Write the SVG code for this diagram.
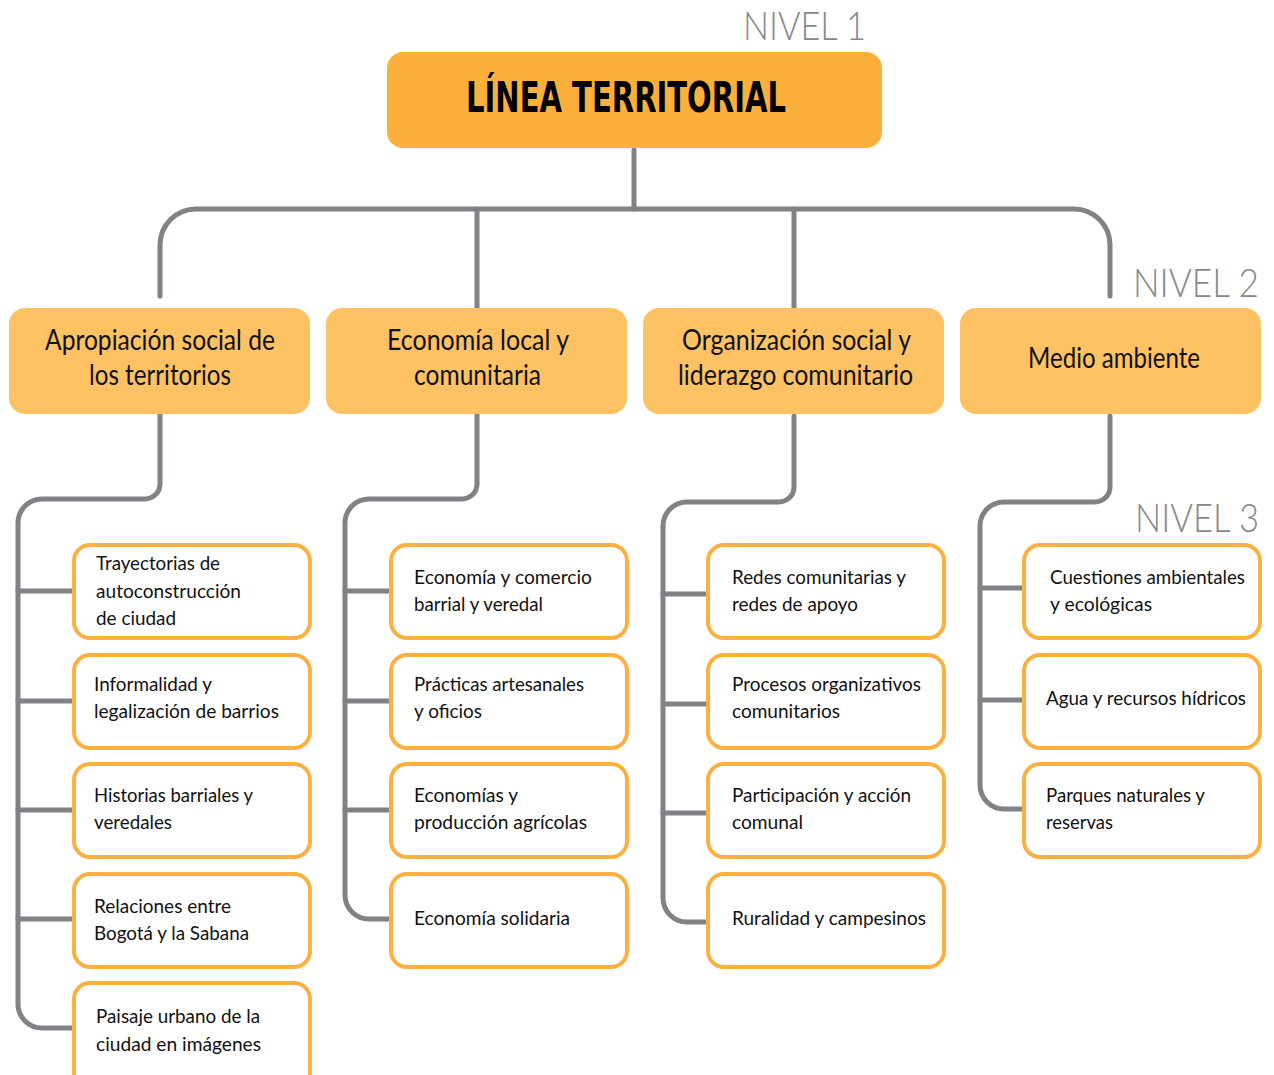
<svg xmlns="http://www.w3.org/2000/svg" width="1274" height="1075" viewBox="0 0 1274 1075">
<style>
.bg{fill:#ffffff}
.l1{fill:#FBB03B}
.l2{fill:#FDC263}
.l3{fill:#ffffff;stroke:#FBB040;stroke-width:4}
.c{fill:none;stroke:#808285;stroke-width:5;stroke-linecap:round}
.t1{font-family:"Liberation Sans Narrow","DejaVu Sans Condensed","Roboto","Liberation Sans",sans-serif;font-weight:bold;font-size:42px;fill:#000}
.t2{font-family:"Lato","Open Sans","Liberation Sans",sans-serif;font-size:28px;fill:#111}
.t3{font-family:"Lato","Open Sans","Liberation Sans",sans-serif;font-size:20px;fill:#111}
.nv{font-family:"Lato","Open Sans","Liberation Sans",sans-serif;font-weight:300;font-size:40px;fill:#86888A}
</style>
<rect class="bg" x="0" y="0" width="1274" height="1075"/>

<g id="connectors">
<path class="c" d="M634 150 V209"/>
<path class="c" d="M160 296 V245 A36 36 0 0 1 196 209 H1074 A36 36 0 0 1 1110 245 V296"/>
<path class="c" d="M477 209 V308"/>
<path class="c" d="M794 209 V308"/>
<path class="c" d="M160 414 V484 A15 15 0 0 1 145 499 H42 A24 24 0 0 0 18 523 V1004 A24 24 0 0 0 42 1028 H74"/>
<path class="c" d="M18 591 H74 M18 701 H74 M18 810 H74 M18 919 H74"/>
<path class="c" d="M477 414 V484 A15 15 0 0 1 462 499 H369 A24 24 0 0 0 345 523 V895 A24 24 0 0 0 369 919 H391"/>
<path class="c" d="M345 591 H391 M345 701 H391 M345 810 H391"/>
<path class="c" d="M794 416 V487 A15 15 0 0 1 779 502 H687 A24 24 0 0 0 663 526 V898 A24 24 0 0 0 687 922 H708"/>
<path class="c" d="M663 594 H708 M663 704 H708 M663 813 H708"/>
<path class="c" d="M1110 416 V487 A15 15 0 0 1 1095 502 H1004 A24 24 0 0 0 980 526 V785 A24 24 0 0 0 1004 809 H1024"/>
<path class="c" d="M980 588 H1024 M980 700 H1024"/>
</g>

<text class="nv" x="743" y="40" textLength="123" lengthAdjust="spacingAndGlyphs">NIVEL 1</text>
<text class="nv" x="1133" y="297" textLength="126" lengthAdjust="spacingAndGlyphs">NIVEL 2</text>
<text class="nv" x="1135" y="532" textLength="124" lengthAdjust="spacingAndGlyphs">NIVEL 3</text>

<g id="n-linea">
<rect class="l1" x="387" y="52" width="495" height="96" rx="16"/>
<text class="t1" x="466" y="112" textLength="320" lengthAdjust="spacingAndGlyphs">LÍNEA TERRITORIAL</text>
</g>

<g id="n-apropiacion">
<rect class="l2" x="9" y="308" width="301" height="106" rx="16"/>
<text class="t2" x="45" y="350" textLength="230" lengthAdjust="spacingAndGlyphs">Apropiación social de</text>
<text class="t2" x="89" y="385" textLength="142" lengthAdjust="spacingAndGlyphs">los territorios</text>
</g>
<g id="n-economia">
<rect class="l2" x="326" y="308" width="301" height="106" rx="16"/>
<text class="t2" x="387" y="350" textLength="182" lengthAdjust="spacingAndGlyphs">Economía local y</text>
<text class="t2" x="414" y="385" textLength="127" lengthAdjust="spacingAndGlyphs">comunitaria</text>
</g>
<g id="n-organizacion">
<rect class="l2" x="643" y="308" width="301" height="106" rx="16"/>
<text class="t2" x="682" y="350" textLength="229" lengthAdjust="spacingAndGlyphs">Organización social y</text>
<text class="t2" x="678" y="385" textLength="235" lengthAdjust="spacingAndGlyphs">liderazgo comunitario</text>
</g>
<g id="n-medio">
<rect class="l2" x="960" y="308" width="301" height="106" rx="16"/>
<text class="t2" x="1028" y="368" textLength="172" lengthAdjust="spacingAndGlyphs">Medio ambiente</text>
</g>

<g id="n-trayectorias">
<rect class="l3" x="74" y="545" width="236" height="93" rx="16"/>
<text class="t3" x="96" y="570" textLength="124" lengthAdjust="spacingAndGlyphs">Trayectorias de</text>
<text class="t3" x="96" y="598" textLength="145" lengthAdjust="spacingAndGlyphs">autoconstrucción</text>
<text class="t3" x="96" y="625" textLength="80" lengthAdjust="spacingAndGlyphs">de ciudad</text>
</g>
<g id="n-informalidad">
<rect class="l3" x="74" y="655" width="236" height="93" rx="16"/>
<text class="t3" x="94" y="691" textLength="118" lengthAdjust="spacingAndGlyphs">Informalidad y</text>
<text class="t3" x="94" y="718" textLength="185" lengthAdjust="spacingAndGlyphs">legalización de barrios</text>
</g>
<g id="n-historias">
<rect class="l3" x="74" y="764" width="236" height="93" rx="16"/>
<text class="t3" x="94" y="802" textLength="159" lengthAdjust="spacingAndGlyphs">Historias barriales y</text>
<text class="t3" x="94" y="829" textLength="78" lengthAdjust="spacingAndGlyphs">veredales</text>
</g>
<g id="n-relaciones">
<rect class="l3" x="74" y="874" width="236" height="93" rx="16"/>
<text class="t3" x="94" y="913" textLength="137" lengthAdjust="spacingAndGlyphs">Relaciones entre</text>
<text class="t3" x="94" y="940" textLength="155" lengthAdjust="spacingAndGlyphs">Bogotá y la Sabana</text>
</g>
<g id="n-paisaje">
<rect class="l3" x="74" y="983" width="236" height="110" rx="16"/>
<text class="t3" x="96" y="1023" textLength="164" lengthAdjust="spacingAndGlyphs">Paisaje urbano de la</text>
<text class="t3" x="96" y="1051" textLength="165" lengthAdjust="spacingAndGlyphs">ciudad en imágenes</text>
</g>

<g id="n-comercio">
<rect class="l3" x="391" y="545" width="236" height="93" rx="16"/>
<text class="t3" x="414" y="584" textLength="178" lengthAdjust="spacingAndGlyphs">Economía y comercio</text>
<text class="t3" x="414" y="611" textLength="129" lengthAdjust="spacingAndGlyphs">barrial y veredal</text>
</g>
<g id="n-practicas">
<rect class="l3" x="391" y="655" width="236" height="93" rx="16"/>
<text class="t3" x="414" y="691" textLength="170" lengthAdjust="spacingAndGlyphs">Prácticas artesanales</text>
<text class="t3" x="414" y="718" textLength="68" lengthAdjust="spacingAndGlyphs">y oficios</text>
</g>
<g id="n-economias">
<rect class="l3" x="391" y="764" width="236" height="93" rx="16"/>
<text class="t3" x="414" y="802" textLength="104" lengthAdjust="spacingAndGlyphs">Economías y</text>
<text class="t3" x="414" y="829" textLength="173" lengthAdjust="spacingAndGlyphs">producción agrícolas</text>
</g>
<g id="n-solidaria">
<rect class="l3" x="391" y="874" width="236" height="93" rx="16"/>
<text class="t3" x="414" y="925" textLength="156" lengthAdjust="spacingAndGlyphs">Economía solidaria</text>
</g>

<g id="n-redes">
<rect class="l3" x="708" y="545" width="236" height="93" rx="16"/>
<text class="t3" x="732" y="584" textLength="174" lengthAdjust="spacingAndGlyphs">Redes comunitarias y</text>
<text class="t3" x="732" y="611" textLength="126" lengthAdjust="spacingAndGlyphs">redes de apoyo</text>
</g>
<g id="n-procesos">
<rect class="l3" x="708" y="655" width="236" height="93" rx="16"/>
<text class="t3" x="732" y="691" textLength="189" lengthAdjust="spacingAndGlyphs">Procesos organizativos</text>
<text class="t3" x="732" y="718" textLength="108" lengthAdjust="spacingAndGlyphs">comunitarios</text>
</g>
<g id="n-participacion">
<rect class="l3" x="708" y="764" width="236" height="93" rx="16"/>
<text class="t3" x="732" y="802" textLength="179" lengthAdjust="spacingAndGlyphs">Participación y acción</text>
<text class="t3" x="732" y="829" textLength="71" lengthAdjust="spacingAndGlyphs">comunal</text>
</g>
<g id="n-ruralidad">
<rect class="l3" x="708" y="874" width="236" height="93" rx="16"/>
<text class="t3" x="732" y="925" textLength="194" lengthAdjust="spacingAndGlyphs">Ruralidad y campesinos</text>
</g>

<g id="n-cuestiones">
<rect class="l3" x="1024" y="545" width="236" height="93" rx="16"/>
<text class="t3" x="1050" y="584" textLength="195" lengthAdjust="spacingAndGlyphs">Cuestiones ambientales</text>
<text class="t3" x="1050" y="611" textLength="102" lengthAdjust="spacingAndGlyphs">y ecológicas</text>
</g>
<g id="n-agua">
<rect class="l3" x="1024" y="655" width="236" height="93" rx="16"/>
<text class="t3" x="1046" y="705" textLength="200" lengthAdjust="spacingAndGlyphs">Agua y recursos hídricos</text>
</g>
<g id="n-parques">
<rect class="l3" x="1024" y="764" width="236" height="93" rx="16"/>
<text class="t3" x="1046" y="802" textLength="159" lengthAdjust="spacingAndGlyphs">Parques naturales y</text>
<text class="t3" x="1046" y="829" textLength="67" lengthAdjust="spacingAndGlyphs">reservas</text>
</g>
</svg>
